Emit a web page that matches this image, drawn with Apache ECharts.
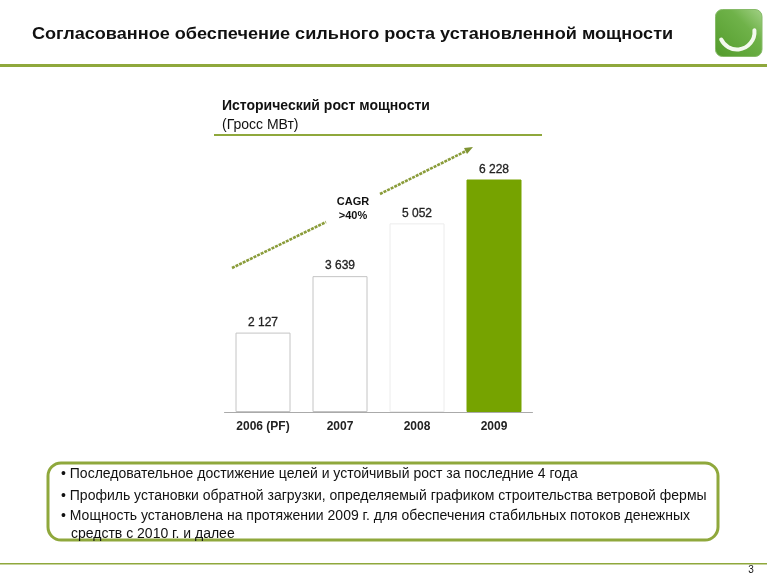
<!DOCTYPE html>
<html><head><meta charset="utf-8">
<style>html,body{margin:0;padding:0;background:#fff}#c{width:767px;height:587px}</style>
<script src="https://cdn.jsdelivr.net/npm/echarts@6/dist/echarts.min.js"></script>
</head><body><div id="c"></div>
<script>
const categories = ['2006 (PF)', '2007', '2008', '2009'];
const capacity = [2127, 3639, 5052, 6228];
const valueLabels = ['2 127', '3 639', '5 052', '6 228'];
const fills = ['#ffffff', '#ffffff', '#ffffff', '#76a300'];
const borders = ['#c4c4c4', '#c4c4c4', '#ececec', '#76a300'];
const pageTitle = 'Согласованное обеспечение сильного роста установленной мощности';
const chartTitle = 'Исторический рост мощности';
const chartUnit = '(Гросс МВт)';
const cagr = 'CAGR\n>40%';
const bullets = [
  ['• Последовательное достижение целей и устойчивый рост за последние 4 года', 61, 474],
  ['• Профиль установки обратной загрузки, определяемый графиком строительства ветровой фермы', 61, 496],
  ['• Мощность установлена на протяжении 2009 г. для обеспечения стабильных потоков денежных', 61, 516],
  ['средств с 2010 г. и далее', 71, 534]
];
const FONT = '"Liberation Sans", Arial, sans-serif';
const OLIVE = '#8fa83c';
const txt = (text, x, y, font, extra) => ({type:'text', z:10, style:Object.assign({text, x, y, font, fill:'#111', textVerticalAlign:'middle'}, extra||{})});
const arrow = (x1,y1,x2,y2) => ({type:'line', z:5, shape:{x1,y1,x2,y2}, style:{stroke:'#8a9c3a', lineWidth:2.6, lineDash:[3,1]}});
const chart = echarts.init(document.getElementById('c'), null, {renderer:'canvas'});
chart.setOption({
  animation:false,
  backgroundColor:'#fff',
  grid:{left:224.5, width:308, top:179.5, height:232.5},
  xAxis:{type:'category', data:categories,
    axisLine:{lineStyle:{color:'#aaaaaa', width:1}}, axisTick:{show:false},
    axisLabel:{color:'#222', fontFamily:FONT, fontSize:12, fontWeight:'bold', margin:9}},
  yAxis:{type:'value', min:0, max:6228, show:false, splitLine:{show:false}},
  series:[{type:'bar', barWidth:55,
    data:capacity.map((v,i)=>({value:v, itemStyle:{color:fills[i], borderColor:borders[i], borderWidth:1}})),
    label:{show:true, position:'top', distance:4, color:'#222', fontFamily:FONT, fontSize:12,
      textBorderColor:'#222', textBorderWidth:0.3,
      formatter:p=>valueLabels[p.dataIndex]}}],
  graphic:[
    {type:'text', z:10, x:32, y:34.5, scaleX:1.064, style:{text:pageTitle, x:0, y:0, font:'bold 17px '+FONT, fill:'#111', textVerticalAlign:'middle'}},
    {type:'line', shape:{x1:0,y1:65.5,x2:767,y2:65.5}, style:{stroke:OLIVE, lineWidth:3}},
    {type:'rect', z:5, shape:{x:715.5,y:9.5,width:46.5,height:47,r:7},
      style:{fill:new echarts.graphic.LinearGradient(1,0,0,1,[{offset:0,color:'#a4d288'},{offset:0.35,color:'#6fb249'},{offset:1,color:'#529b2a'}]), stroke:'#86ba68', lineWidth:1}},
    {type:'arc', z:6, shape:{cx:737,cy:32,r:17.5,startAngle:-0.1,endAngle:2.7}, style:{stroke:'#f4f9ee', fill:null, lineWidth:4, lineCap:'round'}},
    txt(chartTitle, 222, 106, 'bold 14px '+FONT),
    txt(chartUnit, 222, 125, '14px '+FONT),
    {type:'line', shape:{x1:214,y1:135,x2:542,y2:135}, style:{stroke:OLIVE, lineWidth:2}},
    arrow(232,268,326,222),
    arrow(380,194,468,150),
    {type:'polygon', z:5, shape:{points:[[473,147],[464,148],[467,154]]}, style:{fill:'#7f9433'}},
    txt(cagr, 353, 209, 'bold 11px '+FONT, {textAlign:'center', lineHeight:14, fill:'#111'}),
    {type:'rect', shape:{x:48,y:463,width:670,height:77,r:13}, style:{fill:'#fff', stroke:OLIVE, lineWidth:3}},
    ...bullets.map(b=>txt(b[0], b[1], b[2], '14px '+FONT)),
    {type:'rect', shape:{x:0,y:563,width:767,height:1.4}, style:{fill:OLIVE}},
    txt('3', 751, 570, '10px '+FONT, {textAlign:'center'})
  ]
});
</script></body></html>
